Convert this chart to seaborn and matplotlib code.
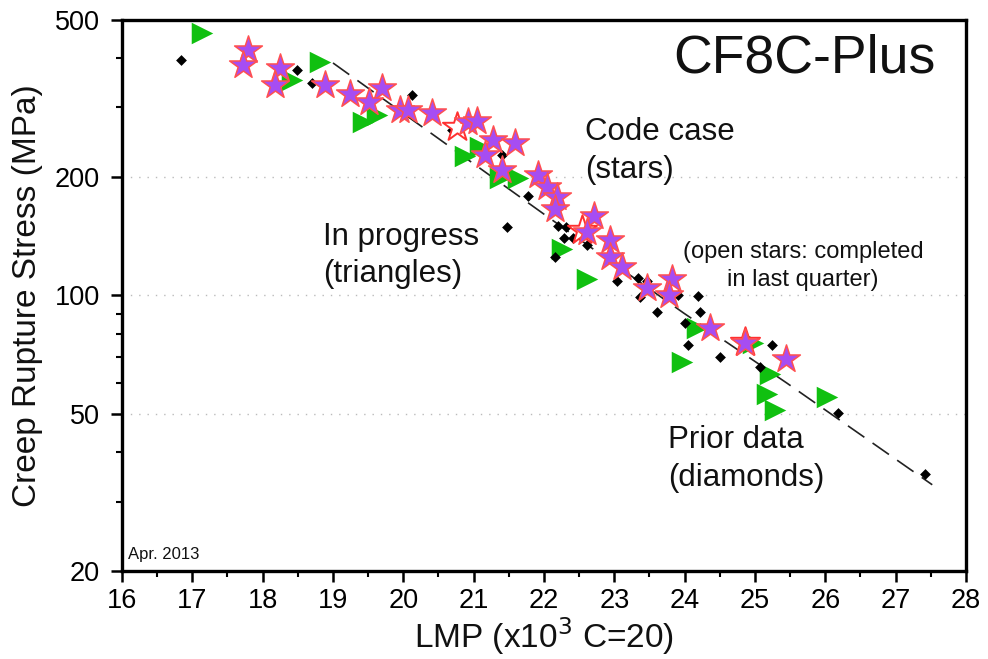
import numpy as np
import pandas as pd
import matplotlib
matplotlib.use("Agg")
import matplotlib.pyplot as plt
import seaborn as sns
from matplotlib.ticker import FixedLocator, NullFormatter, MultipleLocator, FixedFormatter

sns.set_theme(style="white")
plt.rcParams['font.family'] = ['Liberation Sans', 'DejaVu Sans']

# ---- data ----
diamond_lmp = [16.84, 18.49, 18.70, 20.12, 20.69, 21.40, 21.77, 21.47, 22.20, 22.31,
               22.28, 22.41, 22.61, 22.16, 23.04, 23.34, 23.46, 23.37, 23.61, 23.91,
               24.19, 24.22, 24.01, 24.05, 24.50, 25.24, 25.07, 26.18, 27.42]
diamond_stress = [396, 373, 346, 322, 263, 227, 179, 149, 150, 149,
                  140, 140, 134, 125, 109, 111, 109, 99, 90.8, 100.3,
                  99.8, 90.8, 85.2, 75, 69.8, 75, 65.9, 50.2, 35.3]

triangle_lmp = [17.14, 18.82, 18.42, 19.43, 19.63, 20.88, 21.09, 21.37, 21.63, 22.26,
                22.61, 24.18, 23.96, 24.97, 25.21, 25.17, 25.28, 26.02]
triangle_stress = [463, 391, 352, 276, 287, 226, 238, 199, 199, 131,
                   110, 82.8, 67.8, 75.8, 63.2, 56.2, 51.3, 55.3]

star_lmp = [17.79, 17.72, 18.25, 18.18, 18.89, 19.24, 19.70, 19.51, 19.95, 20.07,
            20.41, 20.92, 21.05, 21.28, 21.59, 21.16, 21.40, 21.92, 22.04, 22.19,
            22.16, 22.71, 22.61, 22.94, 22.94, 23.11, 23.46, 23.82, 23.78, 24.36,
            24.86, 25.44]
star_stress = [419.5, 384, 378, 342, 342, 324, 336, 310, 295.5, 295.5,
               290, 275.5, 277, 248, 244, 227, 208, 202, 188.6, 178,
               165.8, 159.2, 145, 138.4, 125.3, 118.1, 104.5, 110.2, 100.3, 82.7,
               75.8, 69]

open_star_lmp = [20.76, 22.54, 24.86]
open_star_stress = [267.6, 146.7, 76]

fit_lmp = [19.00, 22.06, 23.98, 25.45, 27.52]
fit_stress = [389, 158, 90.4, 60.0, 33.1]

x_ticks = list(range(16, 29))
y_ticks = [20, 50, 100, 200, 500]
y_minor = [30, 40, 60, 70, 80, 90, 300, 400]

diamonds = pd.DataFrame({"lmp": diamond_lmp, "stress": diamond_stress})
triangles = pd.DataFrame({"lmp": triangle_lmp, "stress": triangle_stress})
stars = pd.DataFrame({"lmp": star_lmp, "stress": star_stress})
open_stars = pd.DataFrame({"lmp": open_star_lmp, "stress": open_star_stress})
fit = pd.DataFrame({"lmp": fit_lmp, "stress": fit_stress})

fig = plt.figure(figsize=(9.88, 6.59), dpi=100)
ax = fig.add_axes([0.12348, 0.13354, 0.85425, 0.83612])
ax.set_yscale("log")

# dashed fit line
sns.lineplot(data=fit, x="lmp", y="stress", ax=ax, sort=False, estimator=None,
             color="#222222", linewidth=1.2, dashes=False, zorder=2)
ax.lines[-1].set_dashes([12, 6])

sns.scatterplot(data=triangles, x="lmp", y="stress", ax=ax, marker=">", s=15.5**2,
                color="#10c010", edgecolor="#10c010", linewidth=0, zorder=3)
sns.scatterplot(data=diamonds, x="lmp", y="stress", ax=ax, marker="D", s=5.5**2,
                color="black", edgecolor="black", linewidth=0, zorder=4)
sns.scatterplot(data=open_stars, x="lmp", y="stress", ax=ax, marker="*", s=22**2,
                color="white", edgecolor="#ff3030", linewidth=1.4, zorder=5)
sns.scatterplot(data=stars, x="lmp", y="stress", ax=ax, marker="*", s=21**2,
                color="#a64df2", edgecolor="#ff5050", linewidth=1.1, zorder=6)

ax.set_xlim(16, 28)
ax.set_ylim(20, 500)

ax.xaxis.set_major_locator(FixedLocator(x_ticks))
ax.xaxis.set_minor_locator(MultipleLocator(0.5))
ax.yaxis.set_major_locator(FixedLocator(y_ticks))
ax.yaxis.set_major_formatter(FixedFormatter([str(v) for v in y_ticks]))
ax.yaxis.set_minor_locator(FixedLocator(y_minor))
ax.yaxis.set_minor_formatter(NullFormatter())

ax.tick_params(axis="both", which="major", direction="out", length=8, width=1.8,
               labelsize=19.5, color="black", labelcolor="black",
               bottom=True, left=True)
ax.tick_params(axis="x", which="major", pad=4)
ax.tick_params(axis="y", which="major", pad=8)
ax.tick_params(axis="both", which="minor", direction="out", length=4, width=1.5,
               color="black", bottom=True, left=True)

ax.grid(False)
for yv in [50, 100, 200]:
    ax.axhline(yv, color="#bbbbbb", linestyle=(0, (1, 5)), linewidth=1.0, zorder=1)

for sp in ax.spines.values():
    sp.set_color("black")
    sp.set_linewidth(2.4)
    sp.set_visible(True)

ax.set_xlabel("LMP (x10$^3$ C=20)", fontsize=24, color="#111111", labelpad=1)
ax.set_ylabel("Creep Rupture Stress (MPa)", fontsize=24, color="#111111", labelpad=8)

tkw = dict(transform=ax.transAxes, color="#111111")
ax.text(0.809, 0.931, "CF8C-Plus", fontsize=38.5, ha="center", va="center", **tkw)
ax.text(0.5486, 0.7967, "Code case", fontsize=22.5, ha="left", va="center", **tkw)
ax.text(0.5486, 0.7278, "(stars)", fontsize=22.5, ha="left", va="center", **tkw)
ax.text(0.2381, 0.6062, "In progress", fontsize=22.5, ha="left", va="center", **tkw)
ax.text(0.2381, 0.5390, "(triangles)", fontsize=22.5, ha="left", va="center", **tkw)
ax.text(0.6469, 0.2378, "Prior data", fontsize=22.5, ha="left", va="center", **tkw)
ax.text(0.6469, 0.1688, "(diamonds)", fontsize=22.5, ha="left", va="center", **tkw)
ax.text(0.8070, 0.579, "(open stars: completed", fontsize=17, ha="center", va="center", **tkw)
ax.text(0.8070, 0.528, "in last quarter)", fontsize=17, ha="center", va="center", **tkw)
ax.text(0.0075, 0.030, "Apr. 2013", fontsize=12, ha="left", va="center", **tkw)

fig.savefig("out.png", dpi=100)
